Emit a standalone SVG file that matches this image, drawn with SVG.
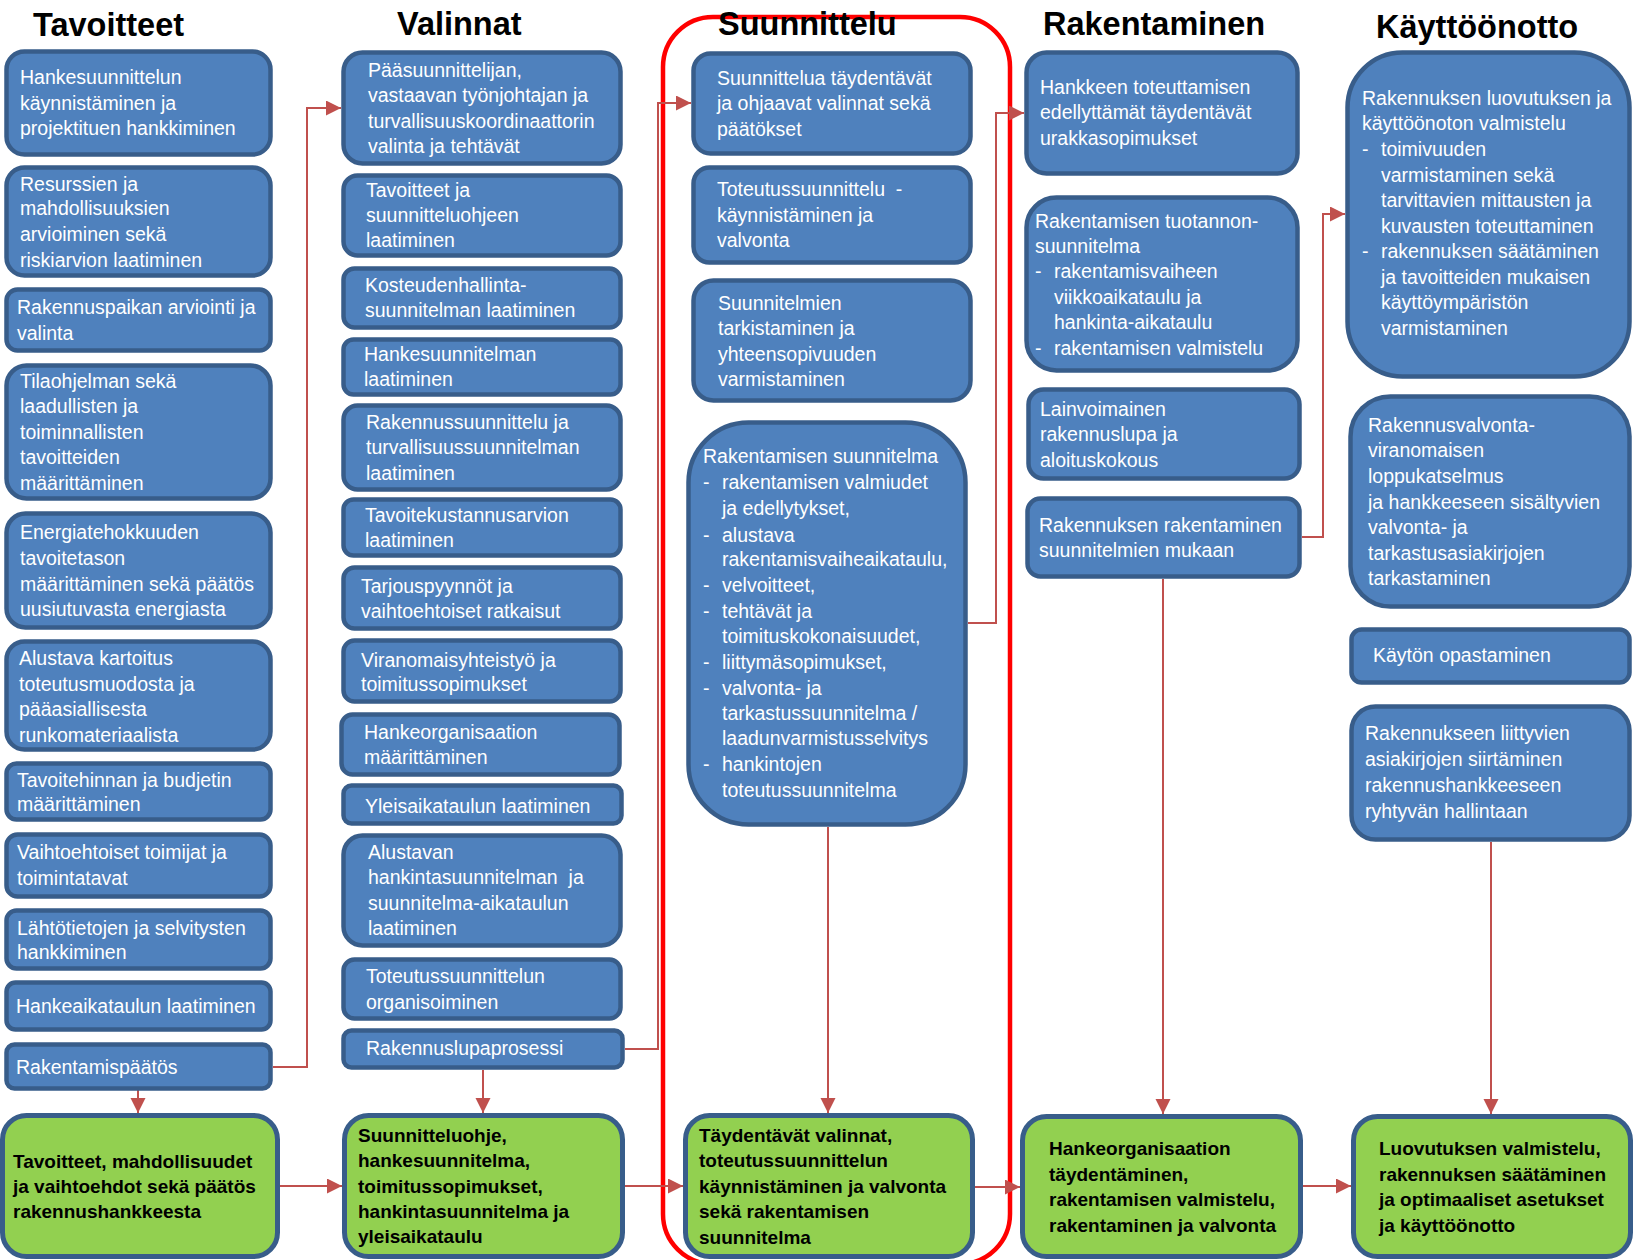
<svg xmlns="http://www.w3.org/2000/svg" width="1634" height="1260" viewBox="0 0 1634 1260">
<defs>
<style>
.b{fill:#4f81bd;stroke:#385d8a;stroke-width:4.5}
.g{fill:#92d050;stroke:#385d8a;stroke-width:5}
.t{font-family:"Liberation Sans",Arial,sans-serif;font-size:19.5px;fill:#ffffff}
.tb{font-family:"Liberation Sans",Arial,sans-serif;font-size:19px;font-weight:bold;fill:#000000}
.h{font-family:"Liberation Sans",Arial,sans-serif;font-size:32.5px;font-weight:bold;fill:#000000}
.c{fill:none;stroke:#c0504d;stroke-width:2}
</style>
<marker id="ar" markerUnits="userSpaceOnUse" markerWidth="16" markerHeight="16" refX="15" refY="7.5" orient="auto">
<path d="M0,0 L15,7.5 L0,15 z" fill="#c0504d"/>
</marker>
</defs>
<rect width="1634" height="1260" fill="#ffffff"/>

<rect id="suunnittelu-frame" x="663" y="17" width="347" height="1247" rx="50" fill="none" stroke="#ff0000" stroke-width="4.5"/>

<g id="headers">
<text class="h" x="33" y="36">Tavoitteet</text>
<text class="h" x="397" y="35">Valinnat</text>
<text class="h" x="718" y="35">Suunnittelu</text>
<text class="h" x="1043" y="35">Rakentaminen</text>
<text class="h" x="1376" y="38">Käyttöönotto</text>
</g>

<g id="connectors">
<path class="c" d="M273,1067 H307 V108 H341" marker-end="url(#ar)"/>
<path class="c" d="M138,1090 V1113" marker-end="url(#ar)"/>
<path class="c" d="M280,1186 H342" marker-end="url(#ar)"/>
<path class="c" d="M625,1049 H658 V103 H691" marker-end="url(#ar)"/>
<path class="c" d="M483,1070 V1113" marker-end="url(#ar)"/>
<path class="c" d="M625,1186 H683" marker-end="url(#ar)"/>
<path class="c" d="M968,623 H996 V113 H1024" marker-end="url(#ar)"/>
<path class="c" d="M828,827 V1113" marker-end="url(#ar)"/>
<path class="c" d="M975,1187 H1020" marker-end="url(#ar)"/>
<path class="c" d="M1302,537 H1323 V214 H1345" marker-end="url(#ar)"/>
<path class="c" d="M1163,579 V1114" marker-end="url(#ar)"/>
<path class="c" d="M1303,1186 H1351" marker-end="url(#ar)"/>
<path class="c" d="M1491,842 V1114" marker-end="url(#ar)"/>
</g>

<!-- Column 1 -->
<g id="t1"><rect class="b" x="6.5" y="51.5" width="264" height="103" rx="18"/>
<text class="t"><tspan x="20" y="84">Hankesuunnittelun</tspan><tspan x="20" y="110">käynnistäminen ja</tspan><tspan x="20" y="135">projektituen hankkiminen</tspan></text></g>
<g id="t2"><rect class="b" x="6.5" y="167.5" width="264" height="108" rx="18"/>
<text class="t"><tspan x="20" y="191">Resurssien ja</tspan><tspan x="20" y="215">mahdollisuuksien</tspan><tspan x="20" y="241">arvioiminen sekä</tspan><tspan x="20" y="267">riskiarvion laatiminen</tspan></text></g>
<g id="t3"><rect class="b" x="6.5" y="289.5" width="264" height="61" rx="11"/>
<text class="t"><tspan x="17" y="314">Rakennuspaikan arviointi ja</tspan><tspan x="17" y="340">valinta</tspan></text></g>
<g id="t4"><rect class="b" x="6.5" y="365.5" width="264" height="133" rx="20"/>
<text class="t"><tspan x="20" y="388">Tilaohjelman sekä</tspan><tspan x="20" y="413">laadullisten ja</tspan><tspan x="20" y="439">toiminnallisten</tspan><tspan x="20" y="464">tavoitteiden</tspan><tspan x="20" y="490">määrittäminen</tspan></text></g>
<g id="t5"><rect class="b" x="6.5" y="513.5" width="264" height="114" rx="19"/>
<text class="t"><tspan x="20" y="539">Energiatehokkuuden</tspan><tspan x="20" y="565">tavoitetason</tspan><tspan x="20" y="591">määrittäminen sekä päätös</tspan><tspan x="20" y="616">uusiutuvasta energiasta</tspan></text></g>
<g id="t6"><rect class="b" x="6.5" y="641.5" width="264" height="108" rx="18"/>
<text class="t"><tspan x="19" y="665">Alustava kartoitus</tspan><tspan x="19" y="691">toteutusmuodosta ja</tspan><tspan x="19" y="716">pääasiallisesta</tspan><tspan x="19" y="742">runkomateriaalista</tspan></text></g>
<g id="t7"><rect class="b" x="6.5" y="763.5" width="264" height="56" rx="10"/>
<text class="t"><tspan x="17" y="787">Tavoitehinnan ja budjetin</tspan><tspan x="17" y="811">määrittäminen</tspan></text></g>
<g id="t8"><rect class="b" x="6.5" y="834.5" width="264" height="62" rx="11"/>
<text class="t"><tspan x="17" y="859">Vaihtoehtoiset toimijat ja</tspan><tspan x="17" y="885">toimintatavat</tspan></text></g>
<g id="t9"><rect class="b" x="6.5" y="910.5" width="264" height="58" rx="10"/>
<text class="t"><tspan x="17" y="935">Lähtötietojen ja selvitysten</tspan><tspan x="17" y="959">hankkiminen</tspan></text></g>
<g id="t10"><rect class="b" x="6.5" y="982.5" width="264" height="47" rx="9"/>
<text class="t"><tspan x="16" y="1013">Hankeaikataulun laatiminen</tspan></text></g>
<g id="t11"><rect class="b" x="6.5" y="1044.5" width="264" height="44" rx="8"/>
<text class="t"><tspan x="16" y="1074">Rakentamispäätös</tspan></text></g>
<g id="g1"><rect class="g" x="2.5" y="1115.5" width="275" height="141" rx="24"/>
<text class="tb"><tspan x="13" y="1168">Tavoitteet, mahdollisuudet</tspan><tspan x="13" y="1193">ja vaihtoehdot sekä päätös</tspan><tspan x="13" y="1218">rakennushankkeesta</tspan></text></g>

<!-- Column 2 -->
<g id="v1"><rect class="b" x="343.5" y="52.5" width="277" height="111" rx="19"/>
<text class="t"><tspan x="368" y="77">Pääsuunnittelijan,</tspan><tspan x="368" y="102">vastaavan työnjohtajan ja</tspan><tspan x="368" y="128">turvallisuuskoordinaattorin</tspan><tspan x="368" y="153">valinta ja tehtävät</tspan></text></g>
<g id="v2"><rect class="b" x="343.5" y="175.5" width="277" height="80" rx="14"/>
<text class="t"><tspan x="366" y="197">Tavoitteet ja</tspan><tspan x="366" y="222">suunnitteluohjeen</tspan><tspan x="366" y="247">laatiminen</tspan></text></g>
<g id="v3"><rect class="b" x="343.5" y="268.5" width="277" height="59" rx="11"/>
<text class="t"><tspan x="365" y="292">Kosteudenhallinta-</tspan><tspan x="365" y="317">suunnitelman laatiminen</tspan></text></g>
<g id="v4"><rect class="b" x="343.5" y="339.5" width="277" height="55" rx="10"/>
<text class="t"><tspan x="364" y="361">Hankesuunnitelman</tspan><tspan x="364" y="386">laatiminen</tspan></text></g>
<g id="v5"><rect class="b" x="343.5" y="405.5" width="277" height="84" rx="14"/>
<text class="t"><tspan x="366" y="429">Rakennussuunnittelu ja</tspan><tspan x="366" y="454">turvallisuussuunnitelman</tspan><tspan x="366" y="480">laatiminen</tspan></text></g>
<g id="v6"><rect class="b" x="343.5" y="499.5" width="277" height="56" rx="10"/>
<text class="t"><tspan x="365" y="522">Tavoitekustannusarvion</tspan><tspan x="365" y="547">laatiminen</tspan></text></g>
<g id="v7"><rect class="b" x="343.5" y="567.5" width="277" height="61" rx="11"/>
<text class="t"><tspan x="361" y="593">Tarjouspyynnöt ja</tspan><tspan x="361" y="618">vaihtoehtoiset ratkaisut</tspan></text></g>
<g id="v8"><rect class="b" x="343.5" y="640.5" width="277" height="61" rx="11"/>
<text class="t"><tspan x="361" y="667">Viranomaisyhteistyö ja</tspan><tspan x="361" y="691">toimitussopimukset</tspan></text></g>
<g id="v9"><rect class="b" x="341.5" y="714.5" width="278" height="60" rx="11"/>
<text class="t"><tspan x="364" y="739">Hankeorganisaation</tspan><tspan x="364" y="764">määrittäminen</tspan></text></g>
<g id="v10"><rect class="b" x="343.5" y="785.5" width="278" height="38" rx="8"/>
<text class="t"><tspan x="365" y="813">Yleisaikataulun laatiminen</tspan></text></g>
<g id="v11"><rect class="b" x="343.5" y="835.5" width="277" height="110" rx="19"/>
<text class="t" xml:space="preserve"><tspan x="368" y="859">Alustavan</tspan><tspan x="368" y="884">hankintasuunnitelman  ja</tspan><tspan x="368" y="910">suunnitelma-aikataulun</tspan><tspan x="368" y="935">laatiminen</tspan></text></g>
<g id="v12"><rect class="b" x="343.5" y="959.5" width="277" height="59" rx="11"/>
<text class="t"><tspan x="366" y="983">Toteutussuunnittelun</tspan><tspan x="366" y="1009">organisoiminen</tspan></text></g>
<g id="v13"><rect class="b" x="343.5" y="1030.5" width="279" height="37" rx="8"/>
<text class="t"><tspan x="366" y="1055">Rakennuslupaprosessi</tspan></text></g>
<g id="g2"><rect class="g" x="344.5" y="1115.5" width="278" height="141" rx="24"/>
<text class="tb"><tspan x="358" y="1142">Suunnitteluohje,</tspan><tspan x="358" y="1167">hankesuunnitelma,</tspan><tspan x="358" y="1193">toimitussopimukset,</tspan><tspan x="358" y="1218">hankintasuunnitelma ja</tspan><tspan x="358" y="1243">yleisaikataulu</tspan></text></g>

<!-- Column 3 -->
<g id="s1"><rect class="b" x="693.5" y="53.5" width="277" height="100" rx="17"/>
<text class="t"><tspan x="717" y="85">Suunnittelua täydentävät</tspan><tspan x="717" y="110">ja ohjaavat valinnat sekä</tspan><tspan x="717" y="136">päätökset</tspan></text></g>
<g id="s2"><rect class="b" x="693.5" y="167.5" width="277" height="95" rx="16"/>
<text class="t" xml:space="preserve"><tspan x="717" y="196">Toteutussuunnittelu  -</tspan><tspan x="717" y="222">käynnistäminen ja</tspan><tspan x="717" y="247">valvonta</tspan></text></g>
<g id="s3"><rect class="b" x="693.5" y="280.5" width="277" height="120" rx="20"/>
<text class="t"><tspan x="718" y="310">Suunnitelmien</tspan><tspan x="718" y="335">tarkistaminen ja</tspan><tspan x="718" y="361">yhteensopivuuden</tspan><tspan x="718" y="386">varmistaminen</tspan></text></g>
<g id="s4"><rect class="b" x="688.5" y="422.5" width="277" height="402" rx="60"/>
<text class="t"><tspan x="703" y="463">Rakentamisen suunnitelma</tspan>
<tspan x="703" y="489">-</tspan><tspan x="722" y="489">rakentamisen valmiudet</tspan>
<tspan x="722" y="515">ja edellytykset,</tspan>
<tspan x="703" y="542">-</tspan><tspan x="722" y="542">alustava</tspan>
<tspan x="722" y="566">rakentamisvaiheaikataulu,</tspan>
<tspan x="703" y="592">-</tspan><tspan x="722" y="592">velvoitteet,</tspan>
<tspan x="703" y="618">-</tspan><tspan x="722" y="618">tehtävät ja</tspan>
<tspan x="722" y="643">toimituskokonaisuudet,</tspan>
<tspan x="703" y="669">-</tspan><tspan x="722" y="669">liittymäsopimukset,</tspan>
<tspan x="703" y="695">-</tspan><tspan x="722" y="695">valvonta- ja</tspan>
<tspan x="722" y="720">tarkastussuunnitelma /</tspan>
<tspan x="722" y="745">laadunvarmistusselvitys</tspan>
<tspan x="703" y="771">-</tspan><tspan x="722" y="771">hankintojen</tspan>
<tspan x="722" y="797">toteutussuunnitelma</tspan></text></g>
<g id="g3"><rect class="g" x="685.5" y="1115.5" width="287" height="141" rx="24"/>
<text class="tb"><tspan x="699" y="1142">Täydentävät valinnat,</tspan><tspan x="699" y="1167">toteutussuunnittelun</tspan><tspan x="699" y="1193">käynnistäminen ja valvonta</tspan><tspan x="699" y="1218">sekä rakentamisen</tspan><tspan x="699" y="1244">suunnitelma</tspan></text></g>

<!-- Column 4 -->
<g id="r1"><rect class="b" x="1026.5" y="52.5" width="271" height="121" rx="20"/>
<text class="t"><tspan x="1040" y="94">Hankkeen toteuttamisen</tspan><tspan x="1040" y="119">edellyttämät täydentävät</tspan><tspan x="1040" y="145">urakkasopimukset</tspan></text></g>
<g id="r2"><rect class="b" x="1026.5" y="197.5" width="271" height="173" rx="30"/>
<text class="t"><tspan x="1035" y="228">Rakentamisen tuotannon-</tspan><tspan x="1035" y="253">suunnitelma</tspan>
<tspan x="1035" y="278">-</tspan><tspan x="1054" y="278">rakentamisvaiheen</tspan>
<tspan x="1054" y="304">viikkoaikataulu ja</tspan>
<tspan x="1054" y="329">hankinta-aikataulu</tspan>
<tspan x="1035" y="355">-</tspan><tspan x="1054" y="355">rakentamisen valmistelu</tspan></text></g>
<g id="r3"><rect class="b" x="1028.5" y="389.5" width="271" height="89" rx="15"/>
<text class="t"><tspan x="1040" y="416">Lainvoimainen</tspan><tspan x="1040" y="441">rakennuslupa ja</tspan><tspan x="1040" y="467">aloituskokous</tspan></text></g>
<g id="r4"><rect class="b" x="1027.5" y="498.5" width="272" height="78" rx="13"/>
<text class="t"><tspan x="1039" y="532">Rakennuksen rakentaminen</tspan><tspan x="1039" y="557">suunnitelmien mukaan</tspan></text></g>
<g id="g4"><rect class="g" x="1022.5" y="1116.5" width="278" height="140" rx="24"/>
<text class="tb"><tspan x="1049" y="1155">Hankeorganisaation</tspan><tspan x="1049" y="1181">täydentäminen,</tspan><tspan x="1049" y="1206">rakentamisen valmistelu,</tspan><tspan x="1049" y="1232">rakentaminen ja valvonta</tspan></text></g>

<!-- Column 5 -->
<g id="k1"><rect class="b" x="1347.5" y="52.5" width="282" height="324" rx="55"/>
<text class="t"><tspan x="1362" y="105">Rakennuksen luovutuksen ja</tspan><tspan x="1362" y="130">käyttöönoton valmistelu</tspan>
<tspan x="1362" y="156">-</tspan><tspan x="1381" y="156">toimivuuden</tspan>
<tspan x="1381" y="182">varmistaminen sekä</tspan>
<tspan x="1381" y="207">tarvittavien mittausten ja</tspan>
<tspan x="1381" y="233">kuvausten toteuttaminen</tspan>
<tspan x="1362" y="258">-</tspan><tspan x="1381" y="258">rakennuksen säätäminen</tspan>
<tspan x="1381" y="284">ja tavoitteiden mukaisen</tspan>
<tspan x="1381" y="309">käyttöympäristön</tspan>
<tspan x="1381" y="335">varmistaminen</tspan></text></g>
<g id="k2"><rect class="b" x="1350.5" y="396.5" width="279" height="210" rx="40"/>
<text class="t"><tspan x="1368" y="432">Rakennusvalvonta-</tspan><tspan x="1368" y="457">viranomaisen</tspan><tspan x="1368" y="483">loppukatselmus</tspan><tspan x="1368" y="509">ja hankkeeseen sisältyvien</tspan><tspan x="1368" y="534">valvonta- ja</tspan><tspan x="1368" y="560">tarkastusasiakirjojen</tspan><tspan x="1368" y="585">tarkastaminen</tspan></text></g>
<g id="k3"><rect class="b" x="1351.5" y="629.5" width="278" height="53" rx="10"/>
<text class="t"><tspan x="1373" y="662">Käytön opastaminen</tspan></text></g>
<g id="k4"><rect class="b" x="1351.5" y="706.5" width="278" height="133" rx="24"/>
<text class="t"><tspan x="1365" y="740">Rakennukseen liittyvien</tspan><tspan x="1365" y="766">asiakirjojen siirtäminen</tspan><tspan x="1365" y="792">rakennushankkeeseen</tspan><tspan x="1365" y="818">ryhtyvän hallintaan</tspan></text></g>
<g id="g5"><rect class="g" x="1353.5" y="1116.5" width="277" height="140" rx="24"/>
<text class="tb"><tspan x="1379" y="1155">Luovutuksen valmistelu,</tspan><tspan x="1379" y="1181">rakennuksen säätäminen</tspan><tspan x="1379" y="1206">ja optimaaliset asetukset</tspan><tspan x="1379" y="1232">ja käyttöönotto</tspan></text></g>
</svg>
